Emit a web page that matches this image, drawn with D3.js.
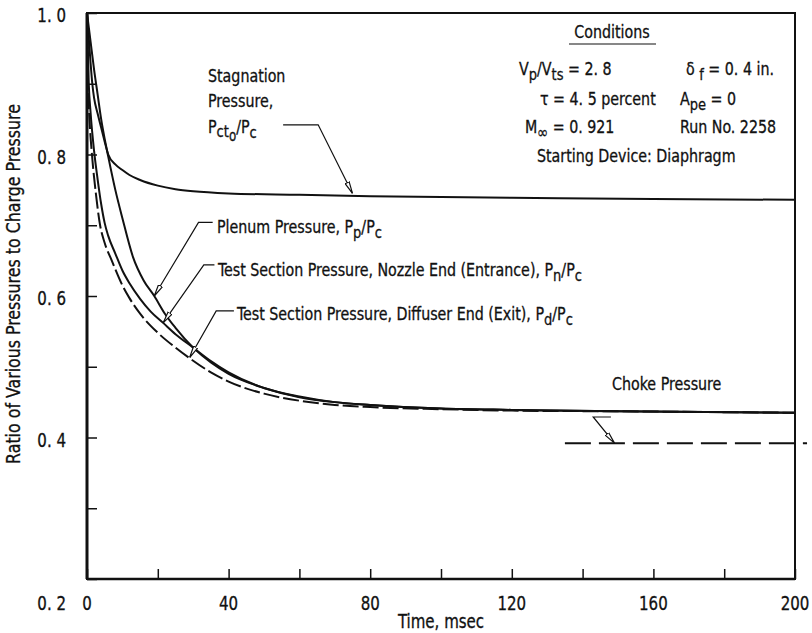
<!DOCTYPE html>
<html>
<head>
<meta charset="utf-8">
<script src="https://cdn.jsdelivr.net/npm/d3@7"></script>
<style>
  html, body { margin: 0; padding: 0; background: #fff; }
  svg { display: block; }
  text { font-family: "DejaVu Sans Condensed", "DejaVu Sans", sans-serif; font-stretch: condensed; fill: #111; stroke: #111; stroke-width: 0.3; }
</style>
</head>
<body>
<svg id="chart" width="812" height="633"></svg>
<script>
// Time axis (msec) and pressure ratio axis
const xTickValues = [0, 20, 40, 60, 80, 100, 120, 140, 160, 180, 200];
const xTickLabels = {0: "0", 40: "40", 80: "80", 120: "120", 160: "160", 200: "200"};
const yTickValues = [0.2, 0.3, 0.4, 0.5, 0.6, 0.7, 0.8, 0.9, 1.0];
const yTickLabels = {"0.2": "0. 2", "0.4": "0. 4", "0.6": "0. 6", "0.8": "0. 8", "1.0": "1. 0"};

// Stagnation pressure, Pcto/Pc
const stagT = [0, 0.5, 1, 1.5, 2, 3, 4, 5, 6, 8, 10, 12, 15, 20, 25, 30, 40, 60, 80, 120, 160, 200];
const stagV = [1.0, 0.965, 0.93, 0.90, 0.88, 0.858, 0.838, 0.818, 0.80, 0.786, 0.778, 0.771, 0.764, 0.756, 0.751, 0.748, 0.745, 0.743, 0.741, 0.739, 0.737, 0.736];

// Plenum pressure, Pp/Pc
const plenT = [0, 1, 2, 3, 4, 5, 6, 8, 10, 13, 16, 19, 22, 25, 30, 35, 40, 50, 60, 70, 80, 100, 120, 150, 200];
const plenV = [1.0, 0.96, 0.92, 0.885, 0.85, 0.822, 0.797, 0.75, 0.71, 0.655, 0.622, 0.60, 0.575, 0.555, 0.527, 0.506, 0.49, 0.47, 0.457, 0.45, 0.446, 0.441, 0.439, 0.437, 0.435];

// Test section pressure, nozzle end, Pn/Pc
const nozT = [0, 0.5, 1, 2, 3, 4, 5, 6, 8, 10, 12, 15, 18, 21.5, 25, 30, 35, 40, 50, 60, 70, 80, 100, 120, 150, 200];
const nozV = [1.0, 0.90, 0.86, 0.805, 0.765, 0.73, 0.703, 0.685, 0.66, 0.636, 0.618, 0.596, 0.578, 0.562, 0.546, 0.527, 0.508, 0.492, 0.47, 0.458, 0.45, 0.446, 0.441, 0.439, 0.437, 0.435];

// Test section pressure, diffuser end, Pd/Pc
const difT = [0, 0.3, 0.7, 1.4, 2.5, 3.7, 5, 7, 10, 12, 15, 20, 25, 29, 35, 40, 50, 60, 70, 80, 100, 120, 150, 200];
const difV = [1.0, 0.90, 0.85, 0.80, 0.745, 0.70, 0.675, 0.65, 0.615, 0.597, 0.575, 0.548, 0.527, 0.512, 0.492, 0.479, 0.462, 0.452, 0.446, 0.443, 0.44, 0.438, 0.437, 0.435];

// Choke pressure level
const chokeT = [135, 203.4];
const chokeV = 0.392;

const svg = d3.select("#chart");
const x = d3.scaleLinear().domain([0, 200]).range([87, 795]);
const y = d3.scaleLinear().domain([0.2, 1.0]).range([579, 13]);
const SQUEEZE = 0.88; // narrow lettering

// Frame
svg.append("rect")
  .attr("x", x(0)).attr("y", y(1.0))
  .attr("width", x(200) - x(0)).attr("height", y(0.2) - y(1.0))
  .attr("fill", "none").attr("stroke", "#111").attr("stroke-width", 2);
svg.append("line")
  .attr("x1", x(0)).attr("x2", x(0)).attr("y1", y(1.0)).attr("y2", y(0.2))
  .attr("stroke", "#111").attr("stroke-width", 3);
svg.append("line")
  .attr("x1", x(0)).attr("x2", x(200)).attr("y1", y(0.2)).attr("y2", y(0.2))
  .attr("stroke", "#111").attr("stroke-width", 2.5);

// Inward ticks
const xAxis = d3.axisTop(x).tickValues(xTickValues).tickSize(10).tickFormat("");
const gx = svg.append("g").attr("transform", `translate(0,${y(0.2)})`).call(xAxis);
const yAxis = d3.axisRight(y).tickValues(yTickValues).tickSize(10).tickFormat("");
const gy = svg.append("g").attr("transform", `translate(${x(0)},0)`).call(yAxis);
[gx, gy].forEach(g => {
  g.select(".domain").remove();
  g.selectAll(".tick line").attr("stroke", "#111").attr("stroke-width", 1.5);
});

// Narrow text placed at (xp, yp)
function label(xp, yp, size, anchor) {
  return svg.append("text")
    .attr("transform", `translate(${xp},${yp}) scale(${SQUEEZE},1)`)
    .attr("font-size", size).attr("text-anchor", anchor || "start");
}

// Tick labels
Object.keys(xTickLabels).map(Number).forEach(d => {
  label(x(d), y(0.2) + 31, 19, "middle").text(xTickLabels[d]);
});
Object.keys(yTickLabels).forEach(d => {
  label(x(0) - 21, y(+d) + (+d === 0.2 ? 31 : 9), 19, "end").text(yTickLabels[d]);
});

// Axis titles
label(441, 628, 19, "middle").text("Time, msec");
svg.append("text")
  .attr("transform", `translate(20,${284}) rotate(-90) scale(${SQUEEZE},1)`)
  .attr("text-anchor", "middle").attr("font-size", 20)
  .text("Ratio of Various Pressures to Charge Pressure");

// Curves
const line = d3.line().x(d => x(d[0])).y(d => y(d[1])).curve(d3.curveMonotoneX);
const curve = (ts, vs) => ts.map((t, i) => [t, vs[i]]);
svg.append("path").attr("d", line(curve(stagT, stagV)))
  .attr("fill", "none").attr("stroke", "#111").attr("stroke-width", 2);
svg.append("path").attr("d", line(curve(plenT, plenV)))
  .attr("fill", "none").attr("stroke", "#111").attr("stroke-width", 2);
svg.append("path").attr("d", line(curve(nozT, nozV)))
  .attr("fill", "none").attr("stroke", "#111").attr("stroke-width", 2);
svg.append("path").attr("d", line(curve(difT, difV)))
  .attr("fill", "none").attr("stroke", "#111").attr("stroke-width", 2)
  .attr("stroke-dasharray", "16,4");
svg.append("line")
  .attr("x1", x(chokeT[0])).attr("x2", x(chokeT[1]))
  .attr("y1", y(chokeV)).attr("y2", y(chokeV))
  .attr("stroke", "#111").attr("stroke-width", 2).attr("stroke-dasharray", "26,8");

// Arrowhead for leader lines
svg.append("defs").append("marker")
  .attr("id", "tip").attr("viewBox", "0 0 12 6")
  .attr("refX", 12).attr("refY", 3)
  .attr("markerWidth", 12).attr("markerHeight", 6)
  .attr("markerUnits", "userSpaceOnUse").attr("orient", "auto")
  .append("path").attr("d", "M0,0.8 L12,3 L0,5.2 Z")
  .attr("fill", "#fff").attr("stroke", "#111").attr("stroke-width", 1.2);

// Leader lines: [label end (t, v), elbow (t, v), tip on curve (t, v)]
const leaders = [
  [[55.4, 0.842], [65.3, 0.842], [75, 0.745]],
  [[35.5, 0.704], [31.5, 0.704], [19, 0.60]],
  [[36, 0.644], [33, 0.644], [21.5, 0.562]],
  [[41.5, 0.579], [36.5, 0.579], [29, 0.513]],
  [[148, 0.429], [143, 0.429], [149, 0.392]]
];
leaders.forEach(pts => {
  svg.append("path")
    .attr("d", d3.line().x(d => x(d[0])).y(d => y(d[1])).curve(d3.curveLinear)(pts))
    .attr("fill", "none").attr("stroke", "#111").attr("stroke-width", 1.2)
    .attr("marker-end", "url(#tip)");
});

// Rich text: segments of [text, baseline shift px, size]
function rich(xp, yp, parts, size, anchor) {
  const t = label(xp, yp, size, anchor);
  let cur = 0;
  parts.forEach(p => {
    const s = p[1] || 0;
    t.append("tspan").attr("dy", s - cur)
      .attr("font-size", p[2] || size).text(p[0]);
    cur = s;
  });
  return t;
}

const fs = 18, sub = 16.5;
// Stagnation label
rich(208, 82, [["Stagnation"]], fs);
rich(208, 107, [["Pressure,"]], fs);
rich(208, 133, [["P"], ["ct", 4, sub], ["o", 8, 15], ["/P", 0], ["c", 5, sub]], fs);

// Curve labels
rich(217, 233, [["Plenum Pressure,  P"], ["p", 5, sub], ["/P", 0], ["c", 5, sub]], fs);
rich(218, 276, [["Test Section Pressure,  Nozzle End (Entrance),  P"], ["n", 5, sub], ["/P", 0], ["c", 5, sub]], fs);
rich(237, 320, [["Test Section Pressure,  Diffuser End (Exit),  P"], ["d", 5, sub], ["/P", 0], ["c", 5, sub]], fs);
rich(612, 390, [["Choke Pressure"]], fs);

// Conditions block
rich(612, 38, [["Conditions"]], fs, "middle");
svg.append("line").attr("x1", 569).attr("x2", 656).attr("y1", 44).attr("y2", 44)
  .attr("stroke", "#111").attr("stroke-width", 1.2);
rich(519, 75, [["V"], ["p", 5, sub], ["/V", 0], ["ts", 5, sub], [" = 2. 8", 0]], fs);
rich(686, 75, [["δ "], ["f", 5, sub], [" = 0. 4 in.", 0]], fs);
rich(540, 105, [["τ = 4. 5 percent"]], fs);
rich(680, 105, [["A"], ["pe", 5, sub], [" = 0", 0]], fs);
rich(525, 133, [["M"], ["∞", 5, sub], [" = 0. 921", 0]], fs);
rich(680, 133, [["Run No.  2258"]], fs);
rich(537, 162, [["Starting Device:  Diaphragm"]], fs);
</script>
</body>
</html>
